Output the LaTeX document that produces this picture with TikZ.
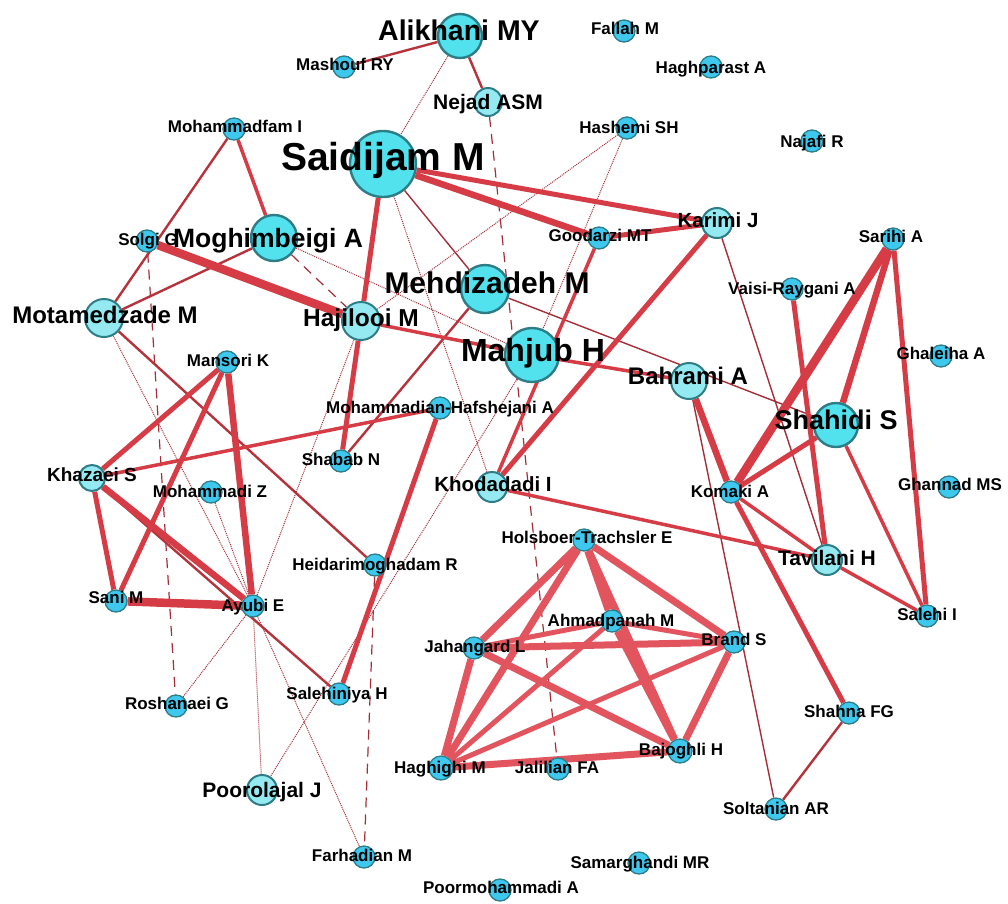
\documentclass[tikz,border=0pt]{standalone}
\usepackage{fontspec}
\setmainfont{Liberation Sans}
\usetikzlibrary{backgrounds}

\definecolor{edgered}{HTML}{D63C46}
\definecolor{edgepale}{HTML}{E2545E}
\definecolor{edgedark}{HTML}{A52E38}
\definecolor{nodesmall}{HTML}{3FC8EE}
\definecolor{nodebig}{HTML}{52E2EE}
\definecolor{nodelight}{HTML}{94EAF0}
\definecolor{nodeline}{HTML}{2E7C86}

\tikzset{
  au/.style={circle, draw=nodeline, fill=nodesmall, line width=1.3pt, minimum size=#1, inner sep=0pt},
  au/.default=22pt,
  aubig/.style={au=#1, fill=nodebig, line width=2.4pt},
  aulight/.style={au=#1, fill=nodelight, line width=2pt},
  lbl/.style={font=\bfseries\fontsize{#1}{#1}\selectfont, anchor=mid, inner sep=0pt},
  lbl/.default=17,
  w1/.style={draw=edgedark, line width=1.4pt},
  w2/.style={draw=edgered!85!black, line width=2.4pt},
  w3/.style={draw=edgered, line width=3.5pt},
  w4/.style={draw=edgered, line width=5pt},
  w5/.style={draw=edgered, line width=6.5pt},
  w6/.style={draw=edgered, line width=8.5pt},
  clq/.style={draw=edgepale, line width=#1},
  dotline/.style={draw=edgedark, line width=1pt, densely dotted},
  dashline/.style={draw=edgedark, line width=1.2pt, dash pattern=on 10pt off 7pt}
}

\begin{document}
\begin{tikzpicture}[x=1pt, y=-1pt]
    \useasboundingbox (0,0) rectangle (1008,903);
    % authors
    \node[aubig=44pt]   (ali) at (460,36) {};
    \node[au]           (mas) at (344,67) {};
    \node[au]           (fal) at (624,31) {};
    \node[au]           (hpa) at (711,67) {};
    \node[aulight=28pt] (nej) at (488,102) {};
    \node[au]           (has) at (627,128) {};
    \node[au]           (naj) at (812,141) {};
    \node[au]           (mfa) at (234,129) {};
    \node[aubig=66pt]   (sai) at (383,164) {};
    \node[au]           (goo) at (599,238) {};
    \node[aulight=30pt] (kar) at (717,223) {};
    \node[au]           (sar) at (893,239) {};
    \node[au]           (sol) at (147,241) {};
    \node[aubig=46pt]   (mog) at (274,238) {};
    \node[aubig=48pt]   (meh) at (485,289) {};
    \node[au]           (vai) at (792,289) {};
    \node[aulight=38pt] (mot) at (104,318) {};
    \node[aulight=38pt] (haj) at (361,321) {};
    \node[au]           (man) at (227,362) {};
    \node[aubig=54pt]   (mah) at (532,355) {};
    \node[au]           (ghl) at (941,356) {};
    \node[aulight=36pt] (bah) at (689,381) {};
    \node[aubig=44pt]   (shd) at (836,425) {};
    \node[au]           (mhf) at (440,408) {};
    \node[au]           (shb) at (341,461) {};
    \node[aulight=26pt] (kha) at (92,478) {};
    \node[au]           (mhz) at (211,492) {};
    \node[aulight=30pt] (kho) at (492,487) {};
    \node[au]           (kom) at (731,492) {};
    \node[au]           (ghn) at (949,487) {};
    \node[au]           (hol) at (584,540) {};
    \node[au]           (hei) at (375,565) {};
    \node[aulight=30pt] (tav) at (827,560) {};
    \node[au]           (ahm) at (612,621) {};
    \node[au]           (san) at (116,601) {};
    \node[au]           (ayu) at (253,606) {};
    \node[au]           (sli) at (927,616) {};
    \node[au]           (bra) at (734,642) {};
    \node[au]           (jah) at (474,648) {};
    \node[au]           (ros) at (176,706) {};
    \node[au]           (shy) at (339,694) {};
    \node[au]           (shn) at (849,713) {};
    \node[au=24pt]      (baj) at (680,751) {};
    \node[au=24pt]      (hgh) at (441,768) {};
    \node[au]           (jal) at (558,769) {};
    \node[aulight=30pt] (poo) at (262,790) {};
    \node[au]           (slt) at (776,809) {};
    \node[au]           (far) at (364,857) {};
    \node[au]           (sam) at (639,863) {};
    \node[au]           (pmo) at (500,890) {};

    % co-authorship links
    \begin{scope}[on background layer]
    \fill[white] (0,0) rectangle (1008,903);
    \draw[dotline] (ali) -- (sai)  (has) -- (haj)  (has) -- (mah)
          (mah) -- (poo)  (mog) -- (mah)  (mot) -- (ayu)
          (sai) -- (kho)  (haj) -- (ayu)  (ayu) -- (ros)
          (ayu) -- (poo)  (ayu) -- (far)  (mhz) -- (ayu);
    \draw[dashline] (nej) -- (jal)  (mog) -- (haj)
          (sol) -- (ros)  (hei) -- (far);
    \draw[w1] (sai) -- (meh)  (meh) -- (shd)  (kar) -- (tav)
          (bah) -- (slt);
    \draw[w2] (ali) -- (mas)  (ali) -- (nej)  (mfa) -- (mot)
          (mog) -- (mot)  (mot) -- (hei)  (meh) -- (shb)
          (shn) -- (slt)  (kha) -- (shy);
    \draw[w3] (mfa) -- (mog)  (haj) -- (mah)  (mah) -- (bah)
          (goo) -- (kho)  (shd) -- (sli)  (kom) -- (tav)
          (tav) -- (sli)  (kho) -- (tav)  (kha) -- (mhf);
    \draw[w4] (sai) -- (haj)  (haj) -- (shb)  (sai) -- (kar)
          (goo) -- (kar)  (kar) -- (kho)  (kom) -- (shn)
          (shd) -- (kom)  (sar) -- (sli)  (vai) -- (tav)
          (kha) -- (man)  (kha) -- (san)  (man) -- (san)
          (mhf) -- (shy);
    \draw[w5] (sai) -- (goo)  (bah) -- (kom)  (shd) -- (sar)
          (kha) -- (ayu)  (man) -- (ayu);
    \draw[w6] (sol) -- (haj)  (sar) -- (kom)  (san) -- (ayu);
    \draw[clq=5pt] (jah) -- (ahm)  (ahm) -- (bra)  (ahm) -- (hgh)
          (bra) -- (hgh);
    \draw[clq=7pt] (hol) -- (jah)  (hol) -- (hgh)  (hol) -- (ahm)
          (hol) -- (bra)  (hol) -- (baj)  (jah) -- (bra)
          (jah) -- (hgh)  (jah) -- (baj)  (ahm) -- (baj)
          (bra) -- (baj)  (hgh) -- (baj);
    \end{scope}

    % names
    \node[lbl=28.5] (ali-t) at (459,38) {Alikhani MY};
    \node[lbl] (mas-t) at (345,68) {Mashouf RY};
    \node[lbl] (fal-t) at (625,32) {Fallah M};
    \node[lbl] (hpa-t) at (711,71) {Haghparast A};
    \node[lbl=21] (nej-t) at (488,107) {Nejad ASM};
    \node[lbl] (has-t) at (629,131) {Hashemi SH};
    \node[lbl] (naj-t) at (812,145) {Najafi R};
    \node[lbl] (mfa-t) at (235,130) {Mohammadfam I};
    \node[lbl=39] (sai-t) at (383,168) {Saidijam M};
    \node[lbl] (goo-t) at (600,239) {Goodarzi MT};
    \node[lbl=20.5] (kar-t) at (718,225) {Karimi J};
    \node[lbl] (sar-t) at (891,240) {Sarihi A};
    \node[lbl] (sol-t) at (148,243) {Solgi G};
    \node[lbl=26.5] (mog-t) at (268,245) {Moghimbeigi A};
    \node[lbl=30] (meh-t) at (487,291) {Mehdizadeh M};
    \node[lbl] (vai-t) at (792,292) {Vaisi-Raygani A};
    \node[lbl=24] (mot-t) at (105,321) {Motamedzade M};
    \node[lbl=24.5] (haj-t) at (361,324) {Hajilooi M};
    \node[lbl] (man-t) at (228,364) {Mansori K};
    \node[lbl=32] (mah-t) at (533,359) {Mahjub H};
    \node[lbl] (ghl-t) at (941,357) {Ghaleiha A};
    \node[lbl=24] (bah-t) at (688,382) {Bahrami A};
    \node[lbl=27] (shd-t) at (836,427) {Shahidi S};
    \node[lbl] (mhf-t) at (440,411) {Mohammadian-Hafshejani A};
    \node[lbl] (shb-t) at (341,463) {Shabab N};
    \node[lbl=19] (kha-t) at (92,479) {Khazaei S};
    \node[lbl] (mhz-t) at (210,495) {Mohammadi Z};
    \node[lbl=20.5] (kho-t) at (493,489) {Khodadadi I};
    \node[lbl] (kom-t) at (730,495) {Komaki A};
    \node[lbl] (ghn-t) at (950,488) {Ghannad MS};
    \node[lbl] (hol-t) at (587,541) {Holsboer-Trachsler E};
    \node[lbl] (hei-t) at (375,568) {Heidarimoghadam R};
    \node[lbl=21] (tav-t) at (827,563) {Tavilani H};
    \node[lbl] (ahm-t) at (611,624) {Ahmadpanah M};
    \node[lbl] (san-t) at (116,601) {Sani M};
    \node[lbl] (ayu-t) at (253,609) {Ayubi E};
    \node[lbl] (sli-t) at (927,618) {Salehi I};
    \node[lbl] (bra-t) at (734,643) {Brand S};
    \node[lbl] (jah-t) at (475,650) {Jahangard L};
    \node[lbl] (ros-t) at (177,707) {Roshanaei G};
    \node[lbl] (shy-t) at (337,697) {Salehiniya H};
    \node[lbl] (shn-t) at (849,715) {Shahna FG};
    \node[lbl] (baj-t) at (681,753) {Bajoghli H};
    \node[lbl] (hgh-t) at (440,771) {Haghighi M};
    \node[lbl] (jal-t) at (557,771) {Jalilian FA};
    \node[lbl=21] (poo-t) at (262,795) {Poorolajal J};
    \node[lbl] (slt-t) at (776,812) {Soltanian AR};
    \node[lbl] (far-t) at (362,859) {Farhadian M};
    \node[lbl] (sam-t) at (640,866) {Samarghandi MR};
    \node[lbl] (pmo-t) at (501,891) {Poormohammadi A};
\end{tikzpicture}
\end{document}
